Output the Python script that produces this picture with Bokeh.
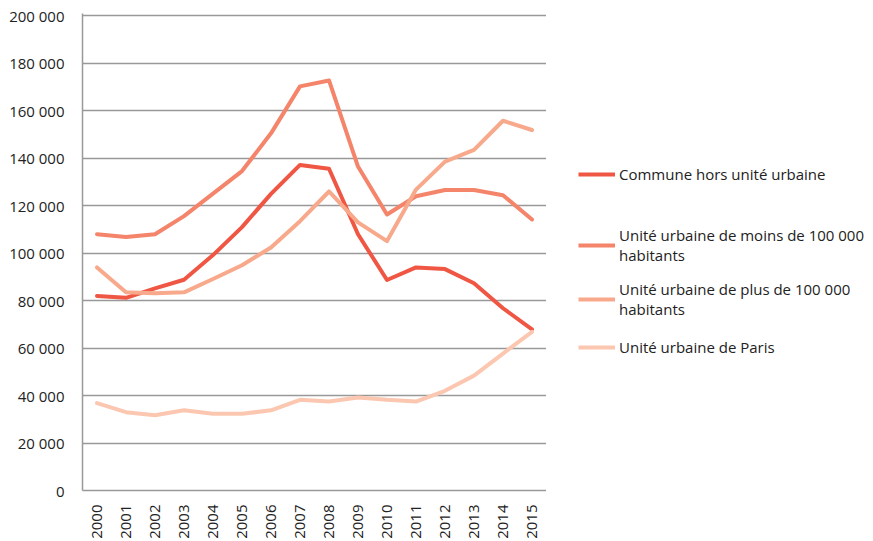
import math
from bokeh.plotting import figure
from bokeh.layouts import row
from bokeh.models import (FactorRange, Range1d, FixedTicker, Legend, LegendItem,
                          ColumnDataSource)
from bokeh.embed import file_html
from bokeh.resources import INLINE

# ---- data ----
years = ["2000", "2001", "2002", "2003", "2004", "2005", "2006", "2007",
         "2008", "2009", "2010", "2011", "2012", "2013", "2014", "2015"]

commune_hors_uu = [82000, 81200, 85200, 88800, 99200, 111000, 125000, 137200,
                   135600, 108000, 88700, 94000, 93300, 87300, 76800, 67900]
uu_moins_100000 = [108000, 106800, 108000, 115600, 125100, 134600, 150500, 170300,
                   172800, 136500, 116300, 124000, 126600, 126600, 124400, 114200]
uu_plus_100000 = [94000, 83500, 83100, 83500, 89100, 94900, 102400, 113500,
                  126000, 113000, 105100, 126800, 138600, 143500, 155800, 151900]
uu_paris = [36800, 33000, 31700, 33800, 32300, 32300, 33800, 38200,
            37500, 39200, 38200, 37500, 42000, 48400, 57700, 66800]

series_labels = ["Commune hors unité urbaine",
                 "Unité urbaine de moins de 100 000\nhabitants",
                 "Unité urbaine de plus de 100 000\nhabitants",
                 "Unité urbaine de Paris"]
series_colors = ["#EF5744", "#F4846A", "#F8A98B", "#FCC7B0"]

y_ticks = [0, 20000, 40000, 60000, 80000, 100000, 120000, 140000, 160000, 180000, 200000]
y_tick_labels = ["0", "20 000", "40 000", "60 000", "80 000", "100 000", "120 000",
                 "140 000", "160 000", "180 000", "200 000"]

# ---- main chart ----
FONT = "Open Sans"
TXT = "#222222"
GRID = "#999999"

source = ColumnDataSource(dict(year=years, a=commune_hors_uu, b=uu_moins_100000,
                               c=uu_plus_100000, d=uu_paris))
keys = ["a", "b", "c", "d"]

p = figure(width=546, height=541,
           x_range=FactorRange(*years, range_padding=0),
           y_range=Range1d(0, 201000),
           output_backend="svg", toolbar_location=None,
           min_border_left=82, min_border_right=0,
           min_border_top=13, min_border_bottom=48)
p.outline_line_color = None
p.background_fill_color = "white"
p.border_fill_color = "white"

p.xgrid.visible = False
p.ygrid.grid_line_color = GRID
p.ygrid.grid_line_width = 1.5
p.yaxis.ticker = FixedTicker(ticks=y_ticks)
p.yaxis.major_label_overrides = {t: l for t, l in zip(y_ticks, y_tick_labels)}

for ax in (p.xaxis[0], p.yaxis[0]):
    ax.major_tick_line_color = None
    ax.minor_tick_line_color = None
    ax.major_tick_out = 0
    ax.major_tick_in = 0
    ax.minor_tick_out = 0
    ax.major_label_text_font = FONT
    ax.major_label_text_font_size = "15px"
    ax.major_label_text_color = TXT
    ax.axis_line_color = GRID
    ax.axis_line_width = 1.5
p.yaxis.major_label_standoff = 18
p.xaxis.major_label_standoff = 14
p.xaxis.major_label_orientation = math.pi / 2

for key, col in zip(keys, series_colors):
    p.line(x="year", y=key, source=source, line_color=col, line_width=4,
           line_join="round", line_cap="round")

# ---- legend panel (same series, outside its visible range; only the legend shows) ----
lp = figure(width=327, height=541,
            x_range=FactorRange(*years, range_padding=0), y_range=Range1d(0, 1),
            output_backend="svg", toolbar_location=None,
            min_border_left=0, min_border_right=0, min_border_top=0, min_border_bottom=0)
lp.axis.visible = False
lp.grid.visible = False
lp.outline_line_color = None
lp.background_fill_color = "white"
lp.border_fill_color = "white"

leg_pos = [(32, 306), (32, 225), (32, 171), (32, 133)]
for lab, key, col, pos in zip(series_labels, keys, series_colors, leg_pos):
    r = lp.line(x="year", y=key, source=source, line_color=col, line_width=4)
    leg = Legend(items=[LegendItem(label=lab, renderers=[r])], location=pos,
                 padding=0, margin=0, spacing=0,
                 border_line_color=None, background_fill_alpha=0,
                 glyph_width=37, glyph_height=20, label_standoff=4,
                 label_text_font=FONT, label_text_font_size="15px",
                 label_text_color=TXT, label_text_line_height=1.33,
                 label_height=20)
    lp.add_layout(leg)

layout = row(p, lp, spacing=0)
open("out.html", "w").write(file_html(layout, INLINE))
